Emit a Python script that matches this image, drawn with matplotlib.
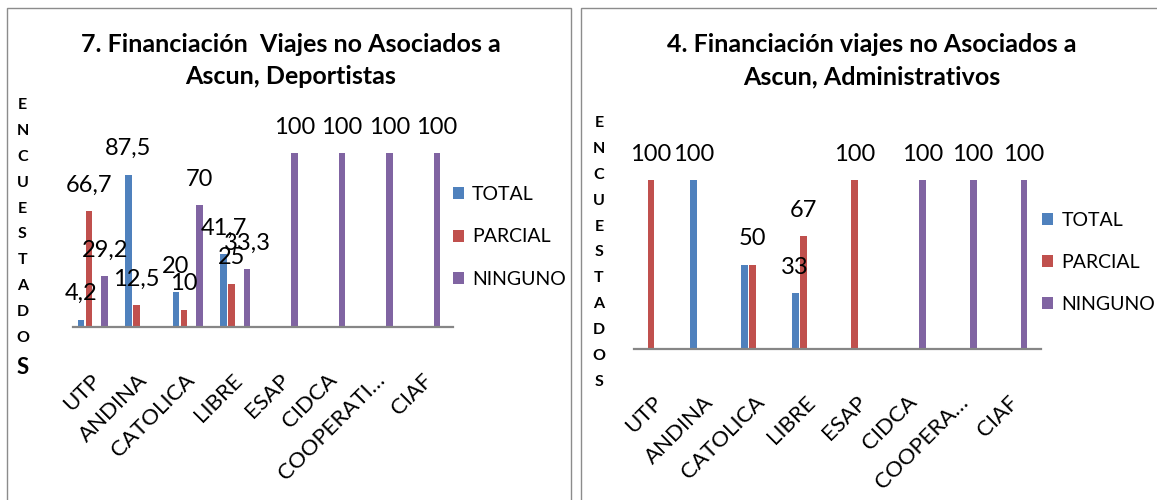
import numpy as np
import matplotlib
matplotlib.use('Agg')
import matplotlib.pyplot as plt
from matplotlib.patches import Rectangle

plt.rcParams['font.family'] = ['Lato', 'DejaVu Sans']

W, H = 1157, 500

series = ['TOTAL', 'PARCIAL', 'NINGUNO']
colors = ['#4F81BD', '#C0504D', '#8064A2']

ticks_dep = ['UTP', 'ANDINA', 'CATOLICA', 'LIBRE', 'ESAP', 'CIDCA', 'COOPERATI…', 'CIAF']
ticks_adm = ['UTP', 'ANDINA', 'CATOLICA', 'LIBRE', 'ESAP', 'CIDCA', 'COOPERA…', 'CIAF']

# 7. deportistas
dep_total = [4.2, 87.5, 20, 41.7, 0, 0, 0, 0]
dep_parcial = [66.7, 12.5, 10, 25, 0, 0, 0, 0]
dep_ninguno = [29.2, 0, 70, 33.3, 100, 100, 100, 100]

# 4. administrativos
adm_total = [0, 100, 50, 33, 0, 0, 0, 0]
adm_parcial = [100, 0, 50, 67, 100, 0, 0, 0]
adm_ninguno = [0, 0, 0, 0, 0, 100, 100, 100]
# la etiqueta TOTAL de CATOLICA no se ve en el original
adm_hide = [('TOTAL', 2)]


def px(x, y):
    # pixel de la imagen (y hacia abajo) -> fraccion de figura
    return x / W, 1 - y / H


def panel(left, right, base, top, vals, ticks, hide, legend_xy):
    x0, y0 = px(left, base)
    x1, y1 = px(right, top)
    ax = fig.add_axes([x0, y0, x1 - x0, y1 - y0])
    x = np.arange(len(ticks))
    slot = 0.166
    offsets = [-2 * slot, -slot, slot]
    for k, name in enumerate(series):
        bars = ax.bar(x + offsets[k], vals[k], width=0.135, color=colors[k], label=name)
        for i, b in enumerate(bars):
            v = vals[k][i]
            if v == 0 or (name, i) in hide:
                continue
            ax.annotate(f'{v:g}'.replace('.', ','), (b.get_x() + b.get_width() / 2, v),
                        xytext=(0, 14), textcoords='offset points', ha='center',
                        va='baseline', fontsize=17, annotation_clip=False)
    ax.set_xlim(-0.5, len(ticks) - 0.5)
    ax.set_ylim(0, 100)
    for s in ['top', 'right', 'left']:
        ax.spines[s].set_visible(False)
    ax.spines['bottom'].set_color('#868686')
    ax.spines['bottom'].set_linewidth(1.6)
    ax.set_yticks([])
    ax.set_xticks(x)
    ax.set_xticklabels(ticks, rotation=45, ha='right', va='center',
                       rotation_mode='anchor', fontsize=16)
    ax.tick_params(axis='x', length=0, pad=36)
    ax.patch.set_visible(False)
    ax.legend(loc='center left', bbox_to_anchor=px(*legend_xy), bbox_transform=fig.transFigure,
              frameon=False, fontsize=14, handlelength=0.57, handleheight=0.57,
              handletextpad=0.42, labelspacing=1.3, borderpad=0, borderaxespad=0)
    return ax


fig = plt.figure(figsize=(W / 100, H / 100), dpi=100)

# marcos de cada grafico
for a, b in [(6.5, 571), (581, 1170)]:
    fx, fy = px(a, 520)
    fig.add_artist(Rectangle((fx, fy), (b - a) / W, 512.5 / H, transform=fig.transFigure,
                             fill=False, edgecolor='#8c8c8c', linewidth=1.0))

panel(73, 453, 327, 153, [dep_total, dep_parcial, dep_ninguno], ticks_dep, [], (452.7, 237))
panel(634, 1041, 349, 180.3, [adm_total, adm_parcial, adm_ninguno], ticks_adm, adm_hide, (1042, 262.5))

# titulos
for cx, lines in [(291, ['7. Financiación  Viajes no Asociados a', 'Ascun, Deportistas']),
                  (872, ['4. Financiación viajes no Asociados a', 'Ascun, Administrativos'])]:
    for j, t in enumerate(lines):
        fig.text(*px(cx, 45 + 32 * j), t, ha='center', va='center', fontsize=18, fontweight='bold')

# letras verticales del eje
word = 'ENCUESTADOS'
for i, ch in enumerate(word):
    big = i == len(word) - 1
    fig.text(*px(22.5, 105 + 25.9 * i + (4 if big else 0)), ch, ha='center', va='center',
             fontsize=16 if big else 11.5, fontweight='bold')
    fig.text(*px(599, 123 + 25.9 * i), ch, ha='center', va='center',
             fontsize=11.5, fontweight='bold')

fig.savefig('out.png', dpi=100)
